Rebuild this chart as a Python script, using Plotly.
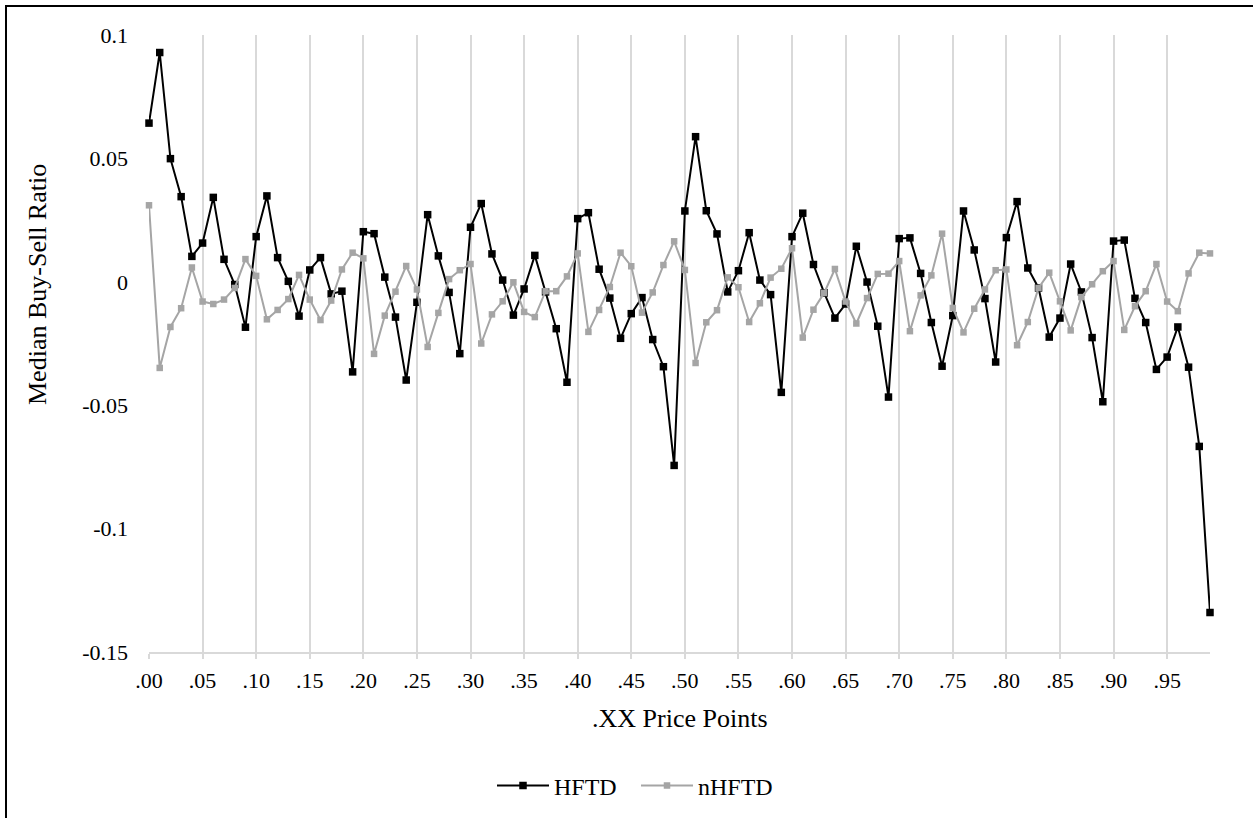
import plotly.graph_objects as go

price_points = [".%02d" % i for i in range(100)]
tick_labels = [".00", ".05", ".10", ".15", ".20", ".25", ".30", ".35", ".40", ".45",
               ".50", ".55", ".60", ".65", ".70", ".75", ".80", ".85", ".90", ".95"]
y_tick_vals = [0.1, 0.05, 0, -0.05, -0.1, -0.15]
y_tick_text = ["0.1", "0.05", "0", "-0.05", "-0.1", "-0.15"]

hftd = [0.0643, 0.0929, 0.0499, 0.0345, 0.0103, 0.0157, 0.0342, 0.0091, -0.0011, -0.0184,
        0.0183, 0.0348, 0.0098, 0.0002, -0.0139, 0.0048, 0.0098, -0.0049, -0.0038, -0.0365,
        0.0203, 0.0195, 0.0019, -0.0143, -0.0398, -0.0083, 0.0272, 0.0105, -0.0043, -0.0291,
        0.0221, 0.0317, 0.0113, 0.0007, -0.0135, -0.0029, 0.0107, -0.0041, -0.0190, -0.0407,
        0.0256, 0.0280, 0.0051, -0.0066, -0.0229, -0.0129, -0.0064, -0.0234, -0.0344, -0.0744,
        0.0287, 0.0588, 0.0288, 0.0194, -0.0041, 0.0045, 0.0199, 0.0007, -0.0052, -0.0448,
        0.0183, 0.0278, 0.0070, -0.0045, -0.0147, -0.0090, 0.0144, -0.0001, -0.0180, -0.0467,
        0.0175, 0.0178, 0.0034, -0.0165, -0.0342, -0.0137, 0.0287, 0.0129, -0.0068, -0.0325,
        0.0179, 0.0325, 0.0056, -0.0025, -0.0224, -0.0147, 0.0072, -0.0041, -0.0226, -0.0486,
        0.0165, 0.0169, -0.0067, -0.0165, -0.0355, -0.0305, -0.0183, -0.0346, -0.0667, -0.1340]

nhftd = [0.0310, -0.0349, -0.0183, -0.0107, 0.0058, -0.0080, -0.0090, -0.0072, -0.0025, 0.0092,
         0.0024, -0.0152, -0.0114, -0.0070, 0.0028, -0.0072, -0.0155, -0.0076, 0.0050, 0.0118,
         0.0095, -0.0292, -0.0137, -0.0040, 0.0064, -0.0031, -0.0264, -0.0126, 0.0011, 0.0047,
         0.0072, -0.0250, -0.0132, -0.0079, -0.0002, -0.0122, -0.0143, -0.0038, -0.0038, 0.0022,
         0.0115, -0.0203, -0.0114, -0.0021, 0.0118, 0.0063, -0.0125, -0.0043, 0.0068, 0.0164,
         0.0048, -0.0329, -0.0164, -0.0115, 0.0018, -0.0022, -0.0163, -0.0087, 0.0017, 0.0053,
         0.0136, -0.0226, -0.0113, -0.0045, 0.0052, -0.0080, -0.0169, -0.0066, 0.0032, 0.0033,
         0.0084, -0.0200, -0.0055, 0.0026, 0.0195, -0.0106, -0.0205, -0.0109, -0.0031, 0.0047,
         0.0050, -0.0257, -0.0163, -0.0025, 0.0037, -0.0079, -0.0197, -0.0062, -0.0010, 0.0043,
         0.0084, -0.0195, -0.0099, -0.0038, 0.0072, -0.0080, -0.0119, 0.0034, 0.0118, 0.0115]

FONT = "Liberation Serif"
GRID = "#d9d9d9"

fig = go.Figure()
fig.add_trace(go.Scatter(
    x=price_points, y=hftd, name="HFTD", mode="lines+markers", cliponaxis=False,
    line=dict(color="black", width=2),
    marker=dict(symbol="square", size=7.5, color="black"),
))
fig.add_trace(go.Scatter(
    x=price_points, y=nhftd, name="nHFTD", mode="lines+markers", cliponaxis=False,
    line=dict(color="#a5a5a5", width=2),
    marker=dict(symbol="square", size=6.5, color="#a5a5a5"),
))

W, H = 1253, 818
L, R, T, B = 149, 43, 35, 166
pw, ph = W - L - R, H - T - B

def px_x(p):
    return (p - L) / pw

def px_y(p):
    return 1 - (p - T) / ph

fig.update_layout(
    width=W, height=H,
    margin=dict(l=L, r=R, t=T, b=B, autoexpand=False),
    paper_bgcolor="white", plot_bgcolor="white",
    font=dict(family=FONT, size=22, color="black"),
    showlegend=True,
    legend=dict(orientation="h", x=px_x(492), xanchor="left", y=px_y(786), yanchor="middle",
                font=dict(family=FONT, size=24), traceorder="normal",
                itemwidth=52, entrywidth=77),
    xaxis=dict(
        type="category", range=[0, 99], automargin=False,
        tickvals=tick_labels, ticktext=tick_labels,
        showgrid=True, gridcolor=GRID, gridwidth=1.5,
        showline=True, linecolor=GRID, linewidth=1.5,
        ticks="outside", ticklen=5, tickcolor=GRID, tickwidth=1.5,
        tickfont=dict(family=FONT, size=22), ticklabelstandoff=3,
        zeroline=False,
    ),
    yaxis=dict(
        range=[-0.15, 0.1], automargin=False,
        tickvals=y_tick_vals, ticktext=y_tick_text,
        showgrid=False, zeroline=False, showline=False,
        ticks="", tickfont=dict(family=FONT, size=22), ticklabelstandoff=20,
    ),
    annotations=[
        dict(text=".XX Price Points", xref="paper", yref="paper",
             x=px_x(679.5), y=px_y(718), xanchor="center", yanchor="middle",
             showarrow=False, font=dict(family=FONT, size=26)),
        dict(text="Median Buy-Sell Ratio", xref="paper", yref="paper",
             x=px_x(38), y=px_y(285), xanchor="center", yanchor="middle", textangle=-90,
             showarrow=False, font=dict(family=FONT, size=26)),
    ],
    shapes=[
        dict(type="line", xref="paper", yref="paper", x0=px_x(6), x1=px_x(6),
             y0=px_y(5), y1=px_y(830), line=dict(color="black", width=2)),
        dict(type="line", xref="paper", yref="paper", x0=px_x(5), x1=px_x(1260),
             y0=px_y(6), y1=px_y(6), line=dict(color="black", width=2)),
    ],
)

fig.write_html("out.html", config={"displayModeBar": False},
               post_script="document.body.style.margin='0';document.body.style.overflow='hidden';")
